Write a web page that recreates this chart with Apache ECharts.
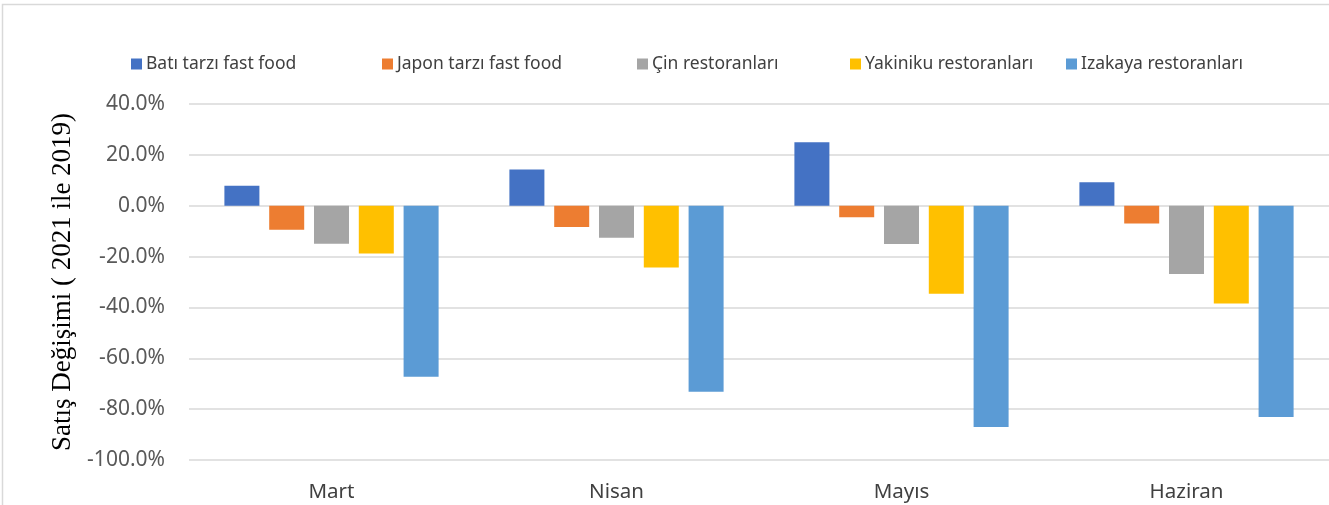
<!DOCTYPE html>
<html>
<head>
<meta charset="utf-8">
<title>Satış Değişimi</title>
<script src="https://cdn.jsdelivr.net/npm/echarts@6/dist/echarts.min.js"></script>
<style>
    html, body { margin: 0; padding: 0; background: #fff; }
    #main { width: 1329px; height: 505px; }
</style>
</head>
<body>
<div id="main"></div>
<script>
//月份
var months = ['Mart', 'Nisan', 'Mayıs', 'Haziran'];

//系列名称
var names = ['Batı tarzı fast food', 'Japon tarzı fast food', 'Çin restoranları', 'Yakiniku restoranları', 'Izakaya restoranları'];

//各系列数值 (%)
var bati = [7.9, 14.2, 25.0, 9.2];
var japon = [-9.5, -8.4, -4.5, -7.0];
var cin = [-15.0, -12.6, -15.1, -26.9];
var yakiniku = [-18.8, -24.3, -34.6, -38.5];
var izakaya = [-67.3, -73.2, -87.0, -83.1];

var colors = ['#4472C4', '#ED7D31', '#A5A5A5', '#FFC000', '#5B9BD5'];
var values = [bati, japon, cin, yakiniku, izakaya];

//图例位置 (Excel 里每个图例不等距)
var legendLeft = [131, 382, 637, 850, 1066];

var chart = echarts.init(document.getElementById('main'));

var legends = [];
var series = [];
for (var i = 0; i < names.length; i++) {
    legends.push({
        data: [names[i]],
        left: legendLeft[i],
        top: 55,
        padding: 0,
        icon: 'rect',
        itemWidth: 11,
        itemHeight: 11,
        textStyle: {
            fontFamily: 'Noto Sans',
            fontSize: 17.5,
            color: '#404040',
            padding: [0, 0, 0, -1]
        }
    });
    series.push({
        name: names[i],
        type: 'bar',
        barWidth: 35,
        barGap: '28%',
        itemStyle: {color: colors[i]},
        data: values[i]
    });
}

var option = {
    animation: false,
    color: colors,
    legend: legends,
    grid: {
        left: 189,
        top: 104,
        width: 1161,
        height: 356
    },
    xAxis: {
        type: 'category',
        data: months,
        axisLine: {show: false},
        axisTick: {show: false},
        axisLabel: {
            margin: 22,
            fontFamily: 'Noto Sans',
            fontSize: 20.5,
            color: '#404040'
        }
    },
    yAxis: {
        type: 'value',
        min: -100,
        max: 40,
        interval: 20,
        name: 'Satış Değişimi ( 2021 ile 2019)',
        nameLocation: 'middle',
        nameGap: 112,
        nameTextStyle: {
            fontFamily: 'Liberation Serif',
            fontSize: 27,
            color: '#000'
        },
        axisLabel: {
            margin: 24,
            fontFamily: 'Noto Sans',
            fontSize: 21,
            color: '#595959',
            formatter: function (v) {
                return v.toFixed(1) + '%';
            }
        },
        splitLine: {
            lineStyle: {color: '#d9d9d9', width: 1.5}
        }
    },
    //外框
    graphic: [{
        type: 'rect',
        shape: {x: 2.5, y: 4.5, width: 1400, height: 600},
        style: {fill: 'none', stroke: '#d9d9d9', lineWidth: 1.5},
        silent: true
    }],
    series: series
};

chart.setOption(option);
</script>
</body>
</html>
